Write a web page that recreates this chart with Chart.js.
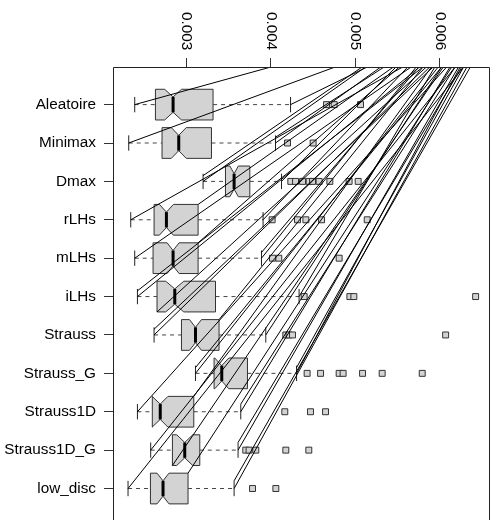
<!doctype html>
<html>

<head>
  <meta charset="utf-8">
  <title>Notched boxplot</title>
  <style>
    html, body { margin: 0; padding: 0; overflow: hidden; background: #fff; }
    .chartBox { width: 499px; height: 520px; }
  </style>
</head>

<body>
  <div class="chartBox">
    <canvas id="myChart" width="499" height="520"></canvas>
  </div>

  <script type="text/javascript" src="https://cdn.jsdelivr.net/npm/chart.js"></script>
  <script>
    const groups = ['Aleatoire', 'Minimax', 'Dmax', 'rLHs', 'mLHs', 'iLHs', 'Strauss', 'Strauss_G', 'Strauss1D', 'Strauss1D_G', 'low_disc'];
    const lowWhisker = [0.002389, 0.002318, 0.003198, 0.002342, 0.002389, 0.002421, 0.002618, 0.003108, 0.002421, 0.002578, 0.002310];
    const q1 = [0.002634, 0.002712, 0.003463, 0.002618, 0.002606, 0.002653, 0.002942, 0.003328, 0.002597, 0.002835, 0.002575];
    const median = [0.002843, 0.002910, 0.003565, 0.002764, 0.002843, 0.002863, 0.003108, 0.003419, 0.002691, 0.002981, 0.002724];
    const q3 = [0.003316, 0.003297, 0.003751, 0.003139, 0.003139, 0.003345, 0.003387, 0.003723, 0.003088, 0.003159, 0.003020];
    const highWhisker = [0.004233, 0.004055, 0.004126, 0.003908, 0.003889, 0.004334, 0.003940, 0.004304, 0.003644, 0.003612, 0.003565];
    const notchLow = [0.002743, 0.002822, 0.003515, 0.002681, 0.002772, 0.002756, 0.003037, 0.003336, 0.002595, 0.002886, 0.002653];
    const notchHigh = [0.002943, 0.002998, 0.003615, 0.002847, 0.002914, 0.002970, 0.003179, 0.003502, 0.002782, 0.003076, 0.002795];
    const outliers = [
      [0.004659, 0.004749, 0.005061],
      [0.004197, 0.004500],
      [0.004236, 0.004292, 0.004375, 0.004453, 0.004493, 0.004571, 0.004698, 0.004926, 0.005033],
      [0.004015, 0.004315, 0.004414, 0.004600, 0.005140],
      [0.004019, 0.004094, 0.004808],
      [0.004394, 0.004935, 0.004982, 0.006423],
      [0.004177, 0.004216, 0.004256, 0.006068],
      [0.004429, 0.004588, 0.004808, 0.004855, 0.005085, 0.005317, 0.005791],
      [0.004165, 0.004469, 0.004647],
      [0.003703, 0.003742, 0.003822, 0.004177, 0.004449],
      [0.003783, 0.004059]
    ];
    const xTicks = [0.003, 0.004, 0.005, 0.006];
    const xTickLabels = ['0.003', '0.004', '0.005', '0.006'];

    // stray lines that run from parts of the boxes up to the top frame
    const strayRow = [1, 2, 3, 4, 5, 6, 7, 8, 9, 10, 11,
      1, 2, 3, 4, 5, 6, 7, 8, 9, 10, 11,
      3, 4, 5, 6, 7, 8, 9, 10, 11, 2, 8,
      9, 10, 11, 7, 6, 5];
    const strayPart = ['lo', 'lo', 'lo', 'lo', 'lo', 'lo', 'lo', 'lo', 'lo', 'lo', 'lo',
      'hi', 'hi', 'hi', 'hi', 'hi', 'hi', 'hi', 'hi', 'hi', 'hi', 'hi',
      'lo', 'q3', 'q3', 'q1', 'q3', 'lo', 'q3', 'q1', 'q3', 'hi', 'hi',
      'hi', 'hi', 'hi', 'lo', 'lo', 'hi'];
    const strayShift = [0, 0, 0, 0, 0, 0, 0, 0, 0, 0, 0,
      0, 0, 0, 0, 0, 0, 0, 0, 0, 0, 0,
      -0.15, -0.4, -0.4, 0.4, -0.4, -0.15, -0.4, 0.4, -0.4, -0.15, -0.15,
      -0.2, -0.2, -0.2, -0.15, -0.15, -0.15];
    const strayTop = [0.00400, 0.00476, 0.00512, 0.00556, 0.00566, 0.00576, 0.00588, 0.00598, 0.00608, 0.00618, 0.00628,
      0.00514, 0.00530, 0.00548, 0.00562, 0.00572, 0.00594, 0.00602, 0.00624, 0.00612, 0.00622, 0.00632,
      0.00508, 0.00545, 0.00552, 0.00584, 0.00580, 0.00602, 0.00590, 0.00604, 0.00614, 0.00534, 0.00628,
      0.00618, 0.00626, 0.00636, 0.00592, 0.00580, 0.00575];

    const FONT = { family: '"Liberation Sans", Arial, sans-serif', size: 15.3 };
    const partValues = { lo: lowWhisker, hi: highWhisker, q1: q1, q3: q3 };

    const boxPlugin = {
      id: 'boxes',
      beforeDatasetsDraw(chart) {
        const ctx = chart.ctx;
        const xs = chart.scales.x, ys = chart.scales.y;
        const hw = Math.abs(ys.getPixelForValue(1.4) - ys.getPixelForValue(1));
        const px = (v) => xs.getPixelForValue(v);
        ctx.save();
        groups.forEach((g, i) => {
          const yc = ys.getPixelForValue(i + 1);
          // whiskers
          ctx.strokeStyle = '#444';
          ctx.lineWidth = 1;
          ctx.setLineDash([4, 4]);
          ctx.beginPath();
          ctx.moveTo(px(lowWhisker[i]), yc); ctx.lineTo(px(q1[i]), yc);
          ctx.moveTo(px(q3[i]), yc); ctx.lineTo(px(highWhisker[i]), yc);
          ctx.stroke();
          ctx.setLineDash([]);
          ctx.strokeStyle = '#222';
          ctx.beginPath();
          ctx.moveTo(px(lowWhisker[i]), yc - hw / 2); ctx.lineTo(px(lowWhisker[i]), yc + hw / 2);
          ctx.moveTo(px(highWhisker[i]), yc - hw / 2); ctx.lineTo(px(highWhisker[i]), yc + hw / 2);
          ctx.stroke();
          // notched box
          const pts = [[q1[i], -1], [q1[i], 1], [notchLow[i], 1], [median[i], 0.5], [notchHigh[i], 1],
            [q3[i], 1], [q3[i], -1], [notchHigh[i], -1], [median[i], -0.5], [notchLow[i], -1]];
          ctx.beginPath();
          pts.forEach((p, k) => {
            const X = px(p[0]), Y = yc + p[1] * hw;
            if (k === 0) ctx.moveTo(X, Y); else ctx.lineTo(X, Y);
          });
          ctx.closePath();
          ctx.fillStyle = '#d3d3d3';
          ctx.fill();
          ctx.strokeStyle = '#333';
          ctx.stroke();
          // median
          ctx.strokeStyle = '#000';
          ctx.lineWidth = 3;
          ctx.beginPath();
          ctx.moveTo(px(median[i]), yc - hw / 2); ctx.lineTo(px(median[i]), yc + hw / 2);
          ctx.stroke();
        });
        ctx.restore();
      },
      afterDatasetsDraw(chart) {
        const ctx = chart.ctx;
        const xs = chart.scales.x, ys = chart.scales.y;
        const a = chart.chartArea;
        ctx.save();
        ctx.beginPath();
        ctx.rect(a.left, a.top, a.right - a.left, a.bottom - a.top);
        ctx.clip();
        ctx.strokeStyle = '#000';
        ctx.lineWidth = 1;
        ctx.beginPath();
        strayRow.forEach((r, k) => {
          const v = partValues[strayPart[k]][r - 1];
          ctx.moveTo(xs.getPixelForValue(v), ys.getPixelForValue(r + strayShift[k]));
          ctx.lineTo(xs.getPixelForValue(strayTop[k]), a.top);
        });
        ctx.stroke();
        ctx.restore();
        // frame (bottom edge falls just below the picture)
        ctx.save();
        ctx.strokeStyle = '#222';
        ctx.lineWidth = 1;
        ctx.beginPath();
        ctx.moveTo(a.left + 0.5, a.bottom);
        ctx.lineTo(a.left + 0.5, a.top + 0.5);
        ctx.lineTo(a.right - 0.5, a.top + 0.5);
        ctx.lineTo(a.right - 0.5, a.bottom);
        ctx.stroke();
        ctx.restore();
      },
      afterDraw(chart) {
        const ctx = chart.ctx;
        const xs = chart.scales.x;
        ctx.save();
        ctx.fillStyle = '#000';
        ctx.font = FONT.size + 'px ' + FONT.family;
        ctx.textAlign = 'left';
        ctx.textBaseline = 'middle';
        xTicks.forEach((t, k) => {
          ctx.save();
          ctx.translate(xs.getPixelForValue(t), 12);
          ctx.rotate(Math.PI / 2);
          ctx.fillText(xTickLabels[k], 0, 0);
          ctx.restore();
        });
        ctx.restore();
      }
    };

    const outlierPoints = [];
    outliers.forEach((list, i) => list.forEach((v) => outlierPoints.push({ x: v, y: i + 1 })));

    const config = {
      type: 'scatter',
      data: {
        datasets: [{
          label: 'outliers',
          data: outlierPoints,
          pointStyle: 'rect',
          pointRadius: 4.2,
          backgroundColor: '#d3d3d3',
          borderColor: '#333',
          borderWidth: 1
        }]
      },
      options: {
        responsive: false,
        devicePixelRatio: 1,
        animation: false,
        layout: { autoPadding: false, padding: { left: 0, right: 9, top: 0, bottom: 0 } },
        plugins: { legend: { display: false }, tooltip: { enabled: false } },
        scales: {
          x: {
            type: 'linear',
            position: 'top',
            min: 0.002132,
            max: 0.006593,
            afterBuildTicks: (s) => { s.ticks = xTicks.map((v) => ({ value: v })); },
            afterFit: (s) => { s.height = 67; s.paddingLeft = 0; s.paddingRight = 0; },
            ticks: { display: false },
            grid: { drawOnChartArea: false, tickLength: 9, color: '#333' },
            border: { display: false }
          },
          y: {
            type: 'linear',
            reverse: true,
            min: 0.02,
            max: 11.82,
            afterBuildTicks: (s) => { s.ticks = groups.map((g, i) => ({ value: i + 1 })); },
            afterFit: (s) => { s.width = 113; s.paddingTop = 0; s.paddingBottom = 0; },
            ticks: {
              autoSkip: false,
              padding: 8,
              color: '#000',
              font: FONT,
              callback: (v) => groups[v - 1]
            },
            grid: { drawOnChartArea: false, tickLength: 9, color: '#333' },
            border: { display: false }
          }
        }
      },
      plugins: [boxPlugin]
    };

    const myChart = new Chart(document.getElementById('myChart'), config);
  </script>
</body>

</html>
